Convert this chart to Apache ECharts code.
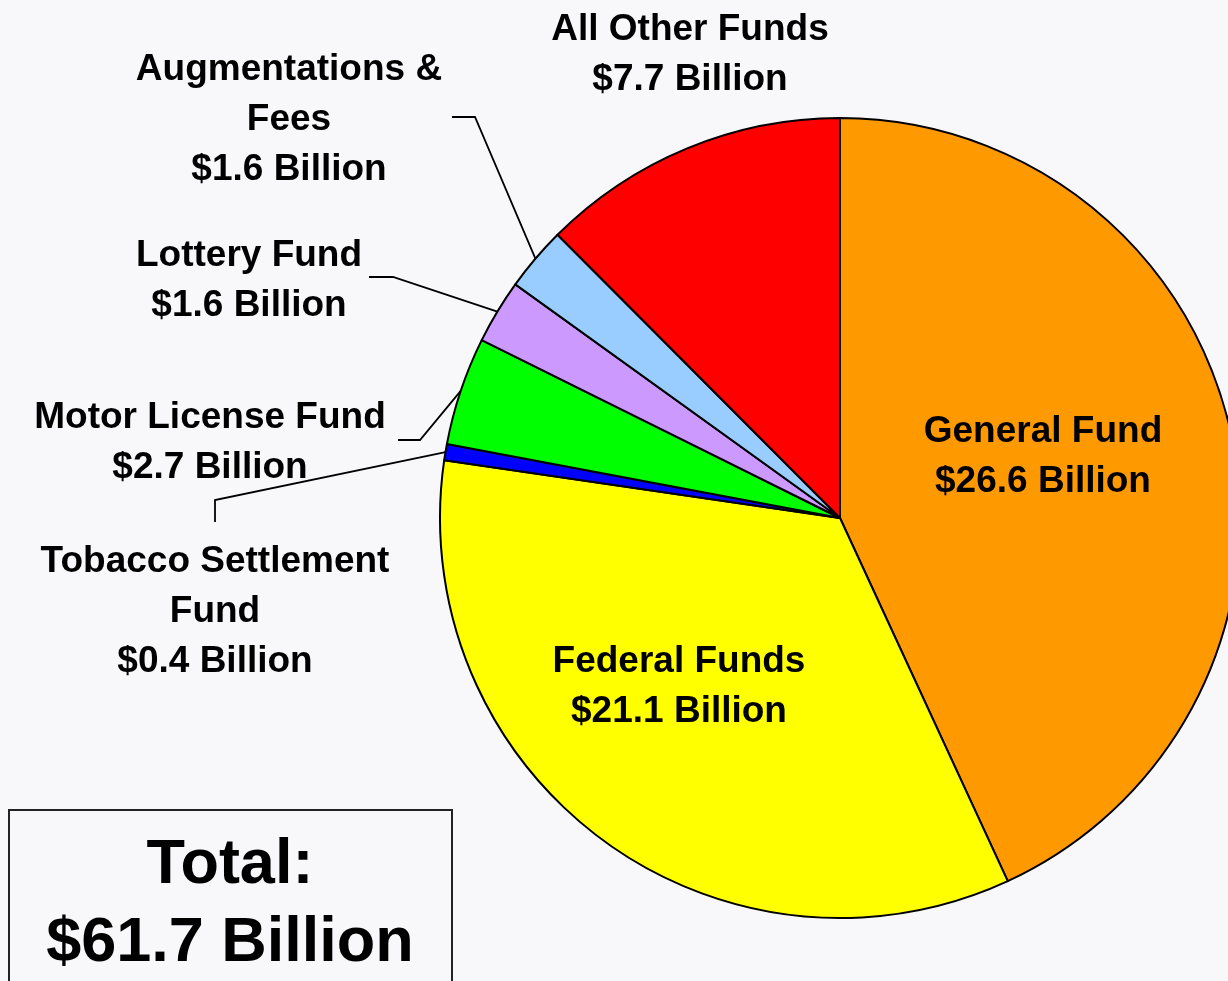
<!DOCTYPE html>
<html><head><meta charset="utf-8">
<script src="https://cdn.jsdelivr.net/npm/echarts@6/dist/echarts.min.js"></script>
<style>html,body{margin:0;padding:0;background:#f8f8fb;} #c{width:1228px;height:981px;}</style>
</head><body><div id="c"></div>
<script>
// ---- data ----
const categories = ['General Fund', 'Federal Funds', 'Tobacco Settlement\nFund', 'Motor License Fund', 'Lottery Fund', 'Augmentations &\nFees', 'All Other Funds'];
const values = [26.6, 21.1, 0.4, 2.7, 1.6, 1.6, 7.7];
const colors = ['#FF9900', '#FFFF00', '#0000FF', '#00FF00', '#CC99FF', '#99CCFF', '#FF0000'];
const insideIdx = [0, 1];
const noLineIdx = [0, 1, 6];

// ---- layout (annotation positions) ----
const CX = 840, CY = 518, R = 400;
const labelPos = [[1043, 457], [679, 687], [215, 612], [210, 443], [249, 281], [289, 120], [690, 55]];
const leaderBends = [null, null, [[215, 500], [215, 522]], [[420, 440], [398, 440]], [[393, 277], [369, 277]], [[475, 117], [452, 117]], null];

const total = values.reduce((a, b) => a + b, 0);
function edgePoint(i) {
  let cum = 0;
  for (let k = 0; k < i; k++) cum += values[k];
  cum += values[i] / 2;
  const a = cum / total * 2 * Math.PI; // clockwise from 12 o'clock
  return [CX + R * Math.sin(a), CY - R * Math.cos(a)];
}

const FONT = "'Liberation Sans', Arial, sans-serif";
const chart = echarts.init(document.getElementById('c'));
chart.setOption({
  backgroundColor: '#f8f8fb',
  animation: false,
  series: [{
    type: 'pie',
    center: [CX, CY],
    radius: R,
    startAngle: 90,
    clockwise: true,
    avoidLabelOverlap: false,
    emphasis: { disabled: true },
    itemStyle: { borderColor: '#000', borderWidth: 2 },
    label: {
      formatter: p => p.name + '\n$' + p.value.toFixed(1) + ' Billion',
      color: '#000', fontSize: 37, fontWeight: 'bold', fontFamily: FONT, lineHeight: 50
    },
    labelLine: { lineStyle: { color: '#000', width: 1.8 } },
    labelLayout: function (p) {
      const i = p.dataIndex;
      const o = { x: labelPos[i][0], y: labelPos[i][1], align: 'center', verticalAlign: 'middle' };
      if (leaderBends[i]) o.labelLinePoints = [edgePoint(i)].concat(leaderBends[i]);
      return o;
    },
    data: categories.map((n, i) => ({
      name: n, value: values[i],
      itemStyle: { color: colors[i] },
      label: { position: insideIdx.includes(i) ? 'inside' : 'outside' },
      labelLine: { show: !noLineIdx.includes(i) }
    }))
  }],
  graphic: [
    { type: 'rect', shape: { x: 9, y: 810, width: 443, height: 200 },
      style: { fill: '#f8f8fb', stroke: '#222', lineWidth: 2 } },
    { type: 'text', x: 230, y: 905,
      style: { text: 'Total:\n$' + total.toFixed(1) + ' Billion', fontSize: 63, fontWeight: 'bold', fontFamily: FONT,
               lineHeight: 78, align: 'center', verticalAlign: 'middle', fill: '#000' } }
  ]
});
</script>
</body></html>
